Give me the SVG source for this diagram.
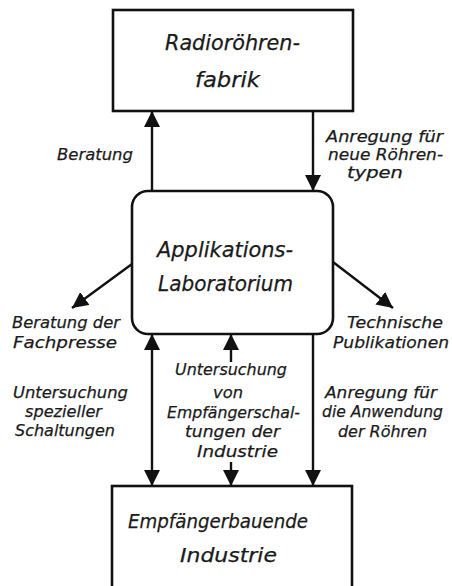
<svg xmlns="http://www.w3.org/2000/svg" width="452" height="586" viewBox="0 0 452 586">
<defs>
<marker id="ah" viewBox="0 0 16 16" refX="16" refY="8" markerWidth="16" markerHeight="16" markerUnits="userSpaceOnUse" orient="auto-start-reverse">
<path d="M0,0 L16,8 L0,16 Z" fill="#111"/>
</marker>
<style>
.box{fill:#fff;stroke:#111;stroke-width:2.6}
.ln{fill:none;stroke:#111;stroke-width:2.4}
.t{font-family:"DejaVu Sans","Liberation Sans",sans-serif;font-style:oblique;fill:#1a1a1a;stroke:#1a1a1a;stroke-width:0.25}
.n{font-size:21.5px}
.b{font-size:19px}
.l{font-size:16.5px}
</style>
</defs>
<rect width="452" height="586" fill="#fff"/>
<g id="connectors">
<line class="ln" x1="152" y1="191" x2="152" y2="111" marker-end="url(#ah)"/>
<line class="ln" x1="313" y1="111" x2="313" y2="191" marker-end="url(#ah)"/>
<line class="ln" x1="132" y1="264" x2="72" y2="308" marker-end="url(#ah)"/>
<line class="ln" x1="333" y1="262" x2="393" y2="308" marker-end="url(#ah)"/>
<line class="ln" x1="152" y1="334" x2="152" y2="486" marker-start="url(#ah)" marker-end="url(#ah)"/>
<line class="ln" x1="231" y1="362" x2="231" y2="334" marker-end="url(#ah)"/>
<line class="ln" x1="231" y1="462" x2="231" y2="486" marker-end="url(#ah)"/>
<line class="ln" x1="313" y1="334" x2="313" y2="486" marker-end="url(#ah)"/>
</g>
<g id="fabrik">
<rect class="box" x="113" y="10" width="240" height="101"/>
<text class="t n" x="165" y="50" textLength="135" lengthAdjust="spacingAndGlyphs">Radioröhren-</text>
<text class="t n" x="195" y="87" textLength="65" lengthAdjust="spacingAndGlyphs">fabrik</text>
</g>
<g id="labor">
<rect class="box" x="132" y="191" width="201" height="143" rx="16"/>
<text class="t n" x="157" y="257" textLength="136" lengthAdjust="spacingAndGlyphs">Applikations-</text>
<text class="t n" x="158" y="291" textLength="135" lengthAdjust="spacingAndGlyphs">Laboratorium</text>
</g>
<g id="industrie">
<rect class="box" x="112" y="486" width="240" height="110"/>
<text class="t b" x="128" y="528" textLength="180" lengthAdjust="spacingAndGlyphs">Empfängerbauende</text>
<text class="t b" x="180" y="562" textLength="97" lengthAdjust="spacingAndGlyphs">Industrie</text>
</g>
<g id="labels">
<text class="t l" x="57" y="160" textLength="76" lengthAdjust="spacingAndGlyphs">Beratung</text>
<text class="t l" x="326" y="142" textLength="117" lengthAdjust="spacingAndGlyphs">Anregung für</text>
<text class="t l" x="328" y="160" textLength="115" lengthAdjust="spacingAndGlyphs">neue Röhren-</text>
<text class="t l" x="347" y="178" textLength="56" lengthAdjust="spacingAndGlyphs">typen</text>
<text class="t l" x="12" y="328" textLength="108" lengthAdjust="spacingAndGlyphs">Beratung der</text>
<text class="t l" x="13" y="348" textLength="104" lengthAdjust="spacingAndGlyphs">Fachpresse</text>
<text class="t l" x="347" y="328" textLength="96" lengthAdjust="spacingAndGlyphs">Technische</text>
<text class="t l" x="333" y="348" textLength="116" lengthAdjust="spacingAndGlyphs">Publikationen</text>
<text class="t l" x="13" y="398" textLength="115" lengthAdjust="spacingAndGlyphs">Untersuchung</text>
<text class="t l" x="25" y="417" textLength="77" lengthAdjust="spacingAndGlyphs">spezieller</text>
<text class="t l" x="15" y="436" textLength="100" lengthAdjust="spacingAndGlyphs">Schaltungen</text>
<text class="t l" x="175" y="375" textLength="112" lengthAdjust="spacingAndGlyphs">Untersuchung</text>
<text class="t l" x="213" y="398" textLength="30" lengthAdjust="spacingAndGlyphs">von</text>
<text class="t l" x="167" y="418" textLength="133" lengthAdjust="spacingAndGlyphs">Empfängerschal-</text>
<text class="t l" x="185" y="437" textLength="95" lengthAdjust="spacingAndGlyphs">tungen der</text>
<text class="t l" x="197" y="457" textLength="81" lengthAdjust="spacingAndGlyphs">Industrie</text>
<text class="t l" x="325" y="398" textLength="112" lengthAdjust="spacingAndGlyphs">Anregung für</text>
<text class="t l" x="322" y="417" textLength="121" lengthAdjust="spacingAndGlyphs">die Anwendung</text>
<text class="t l" x="338" y="437" textLength="89" lengthAdjust="spacingAndGlyphs">der Röhren</text>
</g>
</svg>
